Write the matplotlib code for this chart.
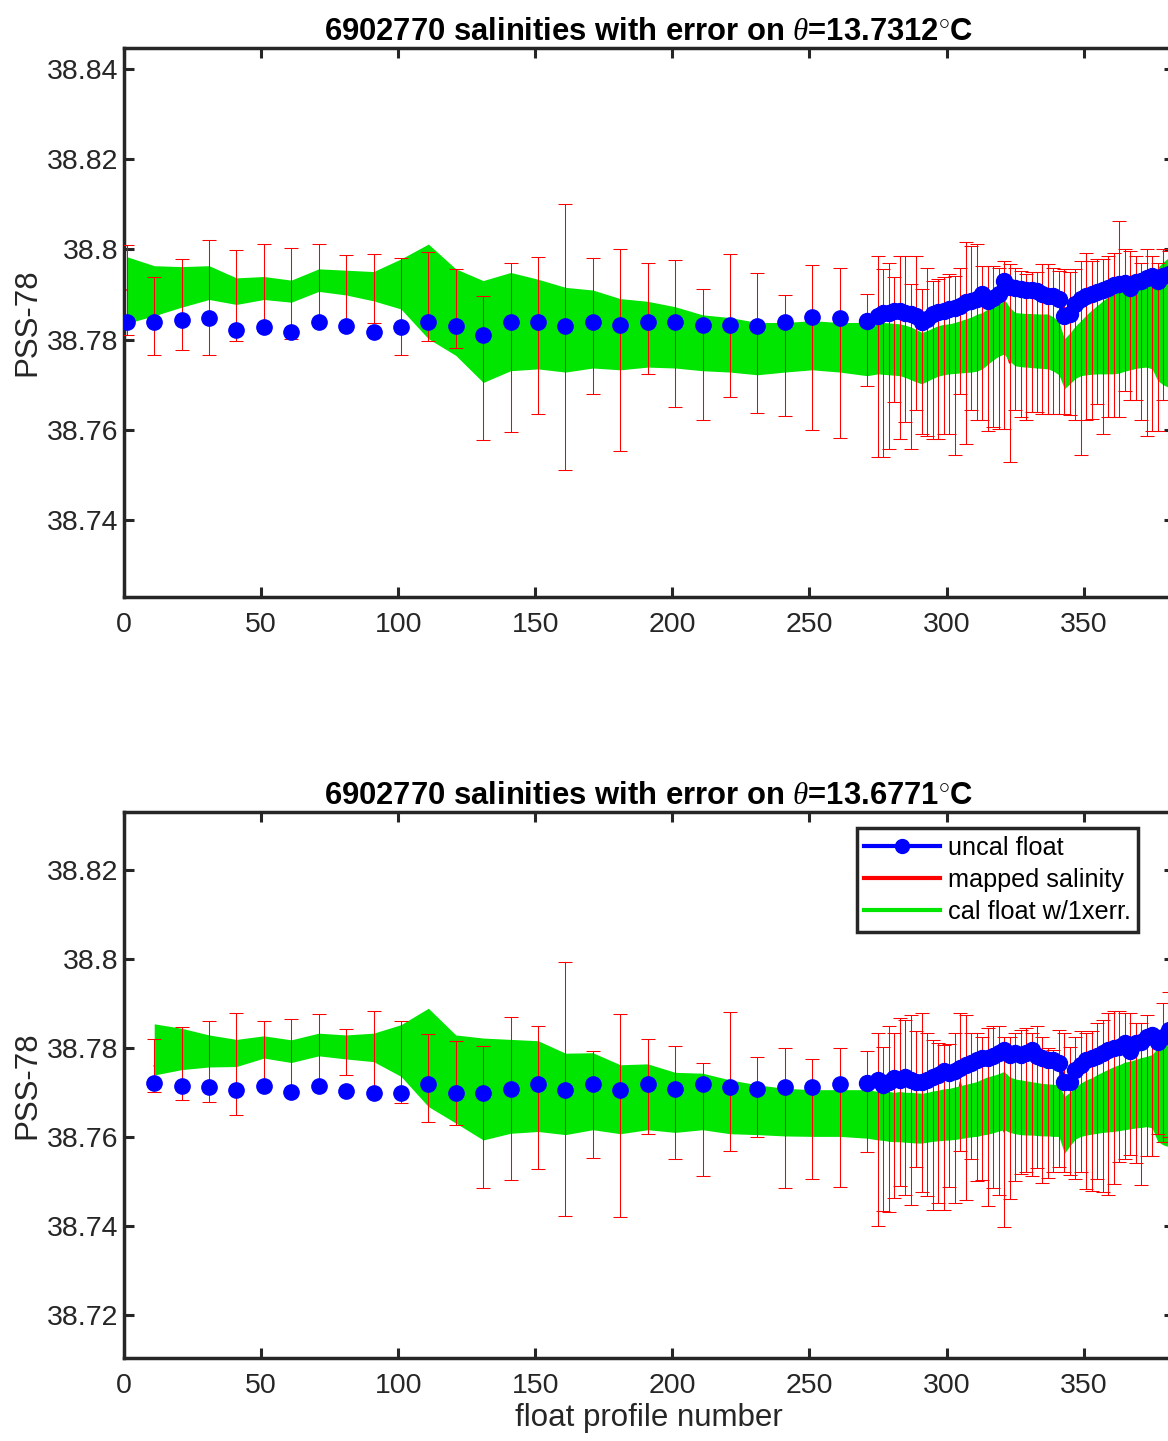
import numpy as np
import matplotlib
matplotlib.use("Agg")
from matplotlib import pyplot as plt
from matplotlib.lines import Line2D

plt.rcParams['font.family'] = ['Liberation Sans', 'DejaVu Sans']
plt.rcParams['mathtext.fontset'] = 'custom'
plt.rcParams['mathtext.rm'] = 'Liberation Sans'
plt.rcParams['mathtext.it'] = 'Liberation Serif:italic'

# ---------------- datos ----------------
# perfiles "sueltos" (cada 10) y perfiles densos al final
prof_sparse_top = list(range(1, 262, 10))
prof_sparse_bot = list(range(11, 262, 10))
prof_dense = [271] + list(range(275, 382, 2))

# ---- panel superior (theta = 13.7312) ----
uncal_sp_1 = [38.7838, 38.7838, 38.7844, 38.7848, 38.7822, 38.7829, 38.7816, 38.7838, 38.7830,
              38.7816, 38.7827, 38.7839, 38.7830, 38.7810, 38.7840, 38.7840, 38.7830, 38.7840,
              38.7832, 38.7840, 38.7840, 38.7832, 38.7832, 38.7830, 38.7840, 38.7851, 38.7847]
caltop_sp_1 = [38.7984, 38.7964, 38.7962, 38.7964, 38.7937, 38.7940, 38.7932, 38.7957, 38.7954,
               38.7951, 38.7979, 38.8012, 38.7957, 38.7931, 38.7949, 38.7934, 38.7916, 38.7910,
               38.7891, 38.7885, 38.7873, 38.7855, 38.7849, 38.7838, 38.7838, 38.7842, 38.7838]
calbot_sp_1 = [38.7836, 38.7853, 38.7872, 38.7889, 38.7878, 38.7889, 38.7883, 38.7907, 38.7899,
               38.7886, 38.7868, 38.7802, 38.7765, 38.7705, 38.7731, 38.7735, 38.7728, 38.7737,
               38.7733, 38.7739, 38.7737, 38.7731, 38.7728, 38.7722, 38.7728, 38.7733, 38.7728]
maphi_sp_1 = [38.8010, 38.7940, 38.7979, 38.8022, 38.7999, 38.8012, 38.8004, 38.8012, 38.7988,
              38.7990, 38.7980, 38.7995, 38.7957, 38.7896, 38.7971, 38.7984, 38.8101, 38.7981,
              38.8001, 38.7971, 38.7977, 38.7912, 38.7991, 38.7947, 38.7900, 38.7966, 38.7959]
maplo_sp_1 = [38.7810, 38.7765, 38.7777, 38.7765, 38.7798, 38.7820, 38.7802, 38.7835, 38.7830,
              38.7836, 38.7765, 38.7798, 38.7781, 38.7578, 38.7595, 38.7635, 38.7510, 38.7680,
              38.7554, 38.7724, 38.7650, 38.7621, 38.7672, 38.7637, 38.7630, 38.7600, 38.7582]

uncal_dn_1 = [38.7842, 38.7853, 38.7858, 38.7860, 38.7864, 38.7864, 38.7860, 38.7857, 38.7853, 38.7840, 38.7845,
              38.7857, 38.7862, 38.7864, 38.7868, 38.7870, 38.7875, 38.7883, 38.7886, 38.7890, 38.7901, 38.7886,
              38.7893, 38.7901, 38.7931, 38.7916, 38.7914, 38.7912, 38.7910, 38.7909, 38.7907, 38.7901, 38.7897,
              38.7897, 38.7890, 38.7853, 38.7857, 38.7879, 38.7890, 38.7897, 38.7901, 38.7905, 38.7909, 38.7914,
              38.7922, 38.7923, 38.7925, 38.7914, 38.7927, 38.7931, 38.7937, 38.7942, 38.7931, 38.7942, 38.7945]
caltop_dn_1 = [38.7838, 38.7838, 38.7838, 38.7837, 38.7836, 38.7835, 38.7832, 38.7828, 38.7822, 38.7816, 38.7820,
               38.7826, 38.7831, 38.7834, 38.7835, 38.7838, 38.7842, 38.7846, 38.7850, 38.7856, 38.7860, 38.7868,
               38.7876, 38.7884, 38.7890, 38.7872, 38.7860, 38.7859, 38.7858, 38.7858, 38.7857, 38.7857, 38.7857,
               38.7850, 38.7840, 38.7802, 38.7815, 38.7830, 38.7842, 38.7855, 38.7866, 38.7876, 38.7886, 38.7895,
               38.7903, 38.7909, 38.7914, 38.7918, 38.7922, 38.7926, 38.7930, 38.7935, 38.7960, 38.7972, 38.7982]
calbot_dn_1 = [38.7720, 38.7724, 38.7723, 38.7722, 38.7721, 38.7720, 38.7716, 38.7711, 38.7706, 38.7702, 38.7708,
               38.7714, 38.7719, 38.7722, 38.7724, 38.7725, 38.7726, 38.7727, 38.7728, 38.7730, 38.7735, 38.7745,
               38.7755, 38.7763, 38.7768, 38.7752, 38.7742, 38.7740, 38.7739, 38.7738, 38.7737, 38.7736, 38.7735,
               38.7730, 38.7722, 38.7691, 38.7702, 38.7714, 38.7720, 38.7722, 38.7723, 38.7724, 38.7724, 38.7724,
               38.7724, 38.7726, 38.7730, 38.7733, 38.7736, 38.7738, 38.7739, 38.7735, 38.7709, 38.7700, 38.7694]
maphi_dn_1 = [38.7901, 38.7986, 38.7956, 38.7971, 38.7938, 38.7986, 38.7986, 38.7923, 38.7986, 38.7912, 38.7960,
              38.7931, 38.7934, 38.7938, 38.7945, 38.7942, 38.7960, 38.8016, 38.8008, 38.8012, 38.7964, 38.7964,
              38.7964, 38.7960, 38.7975, 38.7968, 38.7960, 38.7953, 38.7945, 38.7949, 38.7949, 38.7968, 38.7968,
              38.7960, 38.7953, 38.7956, 38.7949, 38.7956, 38.7975, 38.7993, 38.7975, 38.7979, 38.7979, 38.7986,
              38.7993, 38.8064, 38.8001, 38.7997, 38.7986, 38.7971, 38.8001, 38.7986, 38.7971, 38.8001, 38.7997]
maplo_dn_1 = [38.7698, 38.7539, 38.7539, 38.7558, 38.7661, 38.7580, 38.7617, 38.7558, 38.7643, 38.7591, 38.7587,
              38.7580, 38.7580, 38.7591, 38.7591, 38.7543, 38.7680, 38.7569, 38.7643, 38.7621, 38.7621, 38.7598,
              38.7606, 38.7602, 38.7602, 38.7528, 38.7643, 38.7628, 38.7621, 38.7639, 38.7639, 38.7635, 38.7635,
              38.7635, 38.7635, 38.7635, 38.7632, 38.7621, 38.7543, 38.7621, 38.7624, 38.7657, 38.7591, 38.7628,
              38.7628, 38.7628, 38.7687, 38.7665, 38.7665, 38.7621, 38.7587, 38.7598, 38.7598, 38.7665, 38.7665]

# ---- panel inferior (theta = 13.6771) ----
uncal_sp_2 = [38.7722, 38.7715, 38.7711, 38.7706, 38.7715, 38.7700, 38.7715, 38.7702, 38.7698,
              38.7698, 38.7718, 38.7698, 38.7698, 38.7707, 38.7718, 38.7706, 38.7718, 38.7706,
              38.7718, 38.7708, 38.7718, 38.7712, 38.7708, 38.7712, 38.7712, 38.7718]
caltop_sp_2 = [38.7854, 38.7844, 38.7829, 38.7819, 38.7827, 38.7818, 38.7833, 38.7829, 38.7833,
               38.7852, 38.7889, 38.7829, 38.7822, 38.7819, 38.7816, 38.7788, 38.7789, 38.7762,
               38.7764, 38.7745, 38.7743, 38.7728, 38.7717, 38.7709, 38.7706, 38.7706]
calbot_sp_2 = [38.7739, 38.7751, 38.7757, 38.7758, 38.7777, 38.7767, 38.7782, 38.7775, 38.7769,
               38.7736, 38.7668, 38.7631, 38.7593, 38.7608, 38.7612, 38.7605, 38.7616, 38.7607,
               38.7616, 38.7610, 38.7616, 38.7607, 38.7605, 38.7602, 38.7601, 38.7601]
maphi_sp_2 = [38.7819, 38.7847, 38.7861, 38.7878, 38.7861, 38.7865, 38.7876, 38.7842, 38.7882,
              38.7861, 38.7831, 38.7816, 38.7805, 38.7870, 38.7849, 38.7992, 38.7794, 38.7876,
              38.7819, 38.7804, 38.7766, 38.7881, 38.7780, 38.7799, 38.7775, 38.7799]
maplo_sp_2 = [38.7700, 38.7682, 38.7679, 38.7649, 38.7713, 38.7698, 38.7713, 38.7738, 38.7697,
              38.7677, 38.7634, 38.7627, 38.7485, 38.7503, 38.7527, 38.7423, 38.7552, 38.7420,
              38.7607, 38.7550, 38.7512, 38.7569, 38.7599, 38.7485, 38.7505, 38.7487]

uncal_dn_2 = [38.7721, 38.7728, 38.7717, 38.7724, 38.7732, 38.7728, 38.7735, 38.7728, 38.7724, 38.7724, 38.7728,
              38.7735, 38.7739, 38.7747, 38.7743, 38.7747, 38.7754, 38.7762, 38.7766, 38.7773, 38.7777, 38.7777,
              38.7781, 38.7788, 38.7796, 38.7784, 38.7788, 38.7784, 38.7788, 38.7796, 38.7781, 38.7777, 38.7773,
              38.7773, 38.7766, 38.7724, 38.7724, 38.7751, 38.7762, 38.7773, 38.7777, 38.7782, 38.7788, 38.7796,
              38.7799, 38.7803, 38.7810, 38.7792, 38.7810, 38.7814, 38.7825, 38.7829, 38.7814, 38.7825, 38.7840]
caltop_dn_2 = [38.7706, 38.7702, 38.7703, 38.7702, 38.7700, 38.7702, 38.7700, 38.7700, 38.7699, 38.7698, 38.7700,
               38.7703, 38.7705, 38.7708, 38.7709, 38.7712, 38.7715, 38.7718, 38.7721, 38.7724, 38.7730, 38.7735,
               38.7738, 38.7742, 38.7747, 38.7735, 38.7730, 38.7728, 38.7726, 38.7724, 38.7722, 38.7720, 38.7719,
               38.7718, 38.7717, 38.7691, 38.7700, 38.7712, 38.7721, 38.7728, 38.7733, 38.7740, 38.7746, 38.7752,
               38.7758, 38.7762, 38.7768, 38.7770, 38.7774, 38.7778, 38.7781, 38.7785, 38.7800, 38.7830, 38.7863]
calbot_dn_2 = [38.7597, 38.7593, 38.7592, 38.7590, 38.7589, 38.7589, 38.7588, 38.7587, 38.7586, 38.7586, 38.7588,
               38.7590, 38.7591, 38.7592, 38.7593, 38.7594, 38.7596, 38.7598, 38.7600, 38.7601, 38.7604, 38.7606,
               38.7609, 38.7613, 38.7616, 38.7610, 38.7607, 38.7605, 38.7604, 38.7604, 38.7603, 38.7602, 38.7602,
               38.7601, 38.7601, 38.7563, 38.7580, 38.7595, 38.7601, 38.7604, 38.7606, 38.7608, 38.7610, 38.7611,
               38.7612, 38.7614, 38.7616, 38.7618, 38.7620, 38.7621, 38.7623, 38.7620, 38.7590, 38.7582, 38.7578]
maphi_dn_2 = [38.7792, 38.7833, 38.7803, 38.7848, 38.7833, 38.7867, 38.7863, 38.7874, 38.7837, 38.7878, 38.7833,
              38.7818, 38.7810, 38.7807, 38.7809, 38.7833, 38.7878, 38.7874, 38.7833, 38.7833, 38.7825, 38.7844,
              38.7848, 38.7848, 38.7825, 38.7825, 38.7833, 38.7840, 38.7844, 38.7833, 38.7848, 38.7825, 38.7799,
              38.7795, 38.7840, 38.7833, 38.7803, 38.7825, 38.7837, 38.7833, 38.7837, 38.7855, 38.7863, 38.7878,
              38.7882, 38.7882, 38.7878, 38.7878, 38.7855, 38.7855, 38.7874, 38.7825, 38.7825, 38.7900, 38.7926]
maplo_dn_2 = [38.7565, 38.7400, 38.7434, 38.7432, 38.7462, 38.7490, 38.7470, 38.7447, 38.7532, 38.7475, 38.7467,
              38.7436, 38.7451, 38.7436, 38.7488, 38.7452, 38.7569, 38.7457, 38.7550, 38.7500, 38.7502, 38.7445,
              38.7485, 38.7470, 38.7397, 38.7460, 38.7500, 38.7516, 38.7522, 38.7511, 38.7530, 38.7497, 38.7507,
              38.7520, 38.7532, 38.7522, 38.7515, 38.7505, 38.7522, 38.7482, 38.7479, 38.7505, 38.7475, 38.7470,
              38.7494, 38.7544, 38.7550, 38.7559, 38.7542, 38.7492, 38.7556, 38.7557, 38.7607, 38.7589, 38.7600]

titulos = [r'6902770 salinities with error on $\theta$=13.7312$^{\circ}$C',
           r'6902770 salinities with error on $\theta$=13.6771$^{\circ}$C']
yticks_1 = [38.74, 38.76, 38.78, 38.80, 38.82, 38.84]
yticks_2 = [38.72, 38.74, 38.76, 38.78, 38.80, 38.82]
xticks = [0, 50, 100, 150, 200, 250, 300, 350]

VERDE = '#00e600'
GRIS = '#262626'


def panel(ax, p_sp, unc_sp, ct_sp, cb_sp, mh_sp, ml_sp,
          unc_dn, ct_dn, cb_dn, mh_dn, ml_dn, titulo, yticks, ylim):
    p_all = np.array(list(p_sp) + prof_dense, dtype=float)
    ct = np.array(ct_sp + ct_dn)
    cb = np.array(cb_sp + cb_dn)
    mh = np.array(mh_sp + mh_dn)
    ml = np.array(ml_sp + ml_dn)
    centro = (mh + ml) / 2
    err = (mh - ml) / 2

    # linea del mapped debajo del relleno verde
    ax.plot(p_all, centro, '-', color='red', lw=1.0, zorder=1)
    ax.fill_between(p_all, cb, ct, color=VERDE, lw=0, zorder=2)
    ax.errorbar(p_all, centro, yerr=err, fmt='none', ecolor='red',
                elinewidth=0.75, capsize=5, capthick=0.75, zorder=3)
    ax.plot(p_sp, unc_sp, 'o', color='blue', ms=11, zorder=4)
    ax.plot(prof_dense, unc_dn, '-o', color='blue', lw=3, ms=11.5, zorder=4)

    ax.set_xlim(0, 383)
    ax.set_ylim(*ylim)
    ax.set_xticks(xticks)
    ax.set_yticks(yticks)
    ax.set_yticklabels(['%g' % v for v in yticks])
    ax.tick_params(direction='in', length=7, width=2.2, top=True, right=True,
                   labelsize=20.5, color=GRIS, labelcolor=GRIS)
    ax.tick_params(axis='x', pad=11)
    ax.tick_params(axis='y', pad=4)
    for s in ax.spines.values():
        s.set_linewidth(2.5)
        s.set_color(GRIS)
    ax.set_title(titulo, fontsize=22.3, fontweight='bold', pad=6)
    ax.set_ylabel('PSS-78', fontsize=22.5, color=GRIS, labelpad=3)


fig = plt.figure(figsize=(11.68, 14.41), dpi=100)
ax1 = fig.add_axes([0.1062, 0.5857, 0.899, 0.381])
ax2 = fig.add_axes([0.1062, 0.0576, 0.899, 0.3789])

panel(ax1, prof_sparse_top, uncal_sp_1, caltop_sp_1, calbot_sp_1, maphi_sp_1, maplo_sp_1,
      uncal_dn_1, caltop_dn_1, calbot_dn_1, maphi_dn_1, maplo_dn_1,
      titulos[0], yticks_1, (38.7229, 38.8447))
panel(ax2, prof_sparse_bot, uncal_sp_2, caltop_sp_2, calbot_sp_2, maphi_sp_2, maplo_sp_2,
      uncal_dn_2, caltop_dn_2, calbot_dn_2, maphi_dn_2, maplo_dn_2,
      titulos[1], yticks_2, (38.7103, 38.8330))
ax2.set_xlabel('float profile number', fontsize=22.5, color=GRIS, labelpad=3)

# leyenda
handles = [Line2D([], [], color='blue', lw=3, marker='o', ms=10),
           Line2D([], [], color='red', lw=3),
           Line2D([], [], color=VERDE, lw=3)]
leg = ax2.legend(handles, ['uncal float', 'mapped salinity', 'cal float w/1xerr.'],
                 loc='upper right', bbox_to_anchor=(0.9657, 0.9707), borderaxespad=0,
                 fontsize=18.2, handlelength=3.0, handletextpad=0.3, labelspacing=0.33,
                 borderpad=0.3, fancybox=False, framealpha=1)
leg.get_frame().set_edgecolor(GRIS)
leg.get_frame().set_linewidth(2.5)
leg.set_zorder(10)

fig.savefig('out.png', dpi=100)
